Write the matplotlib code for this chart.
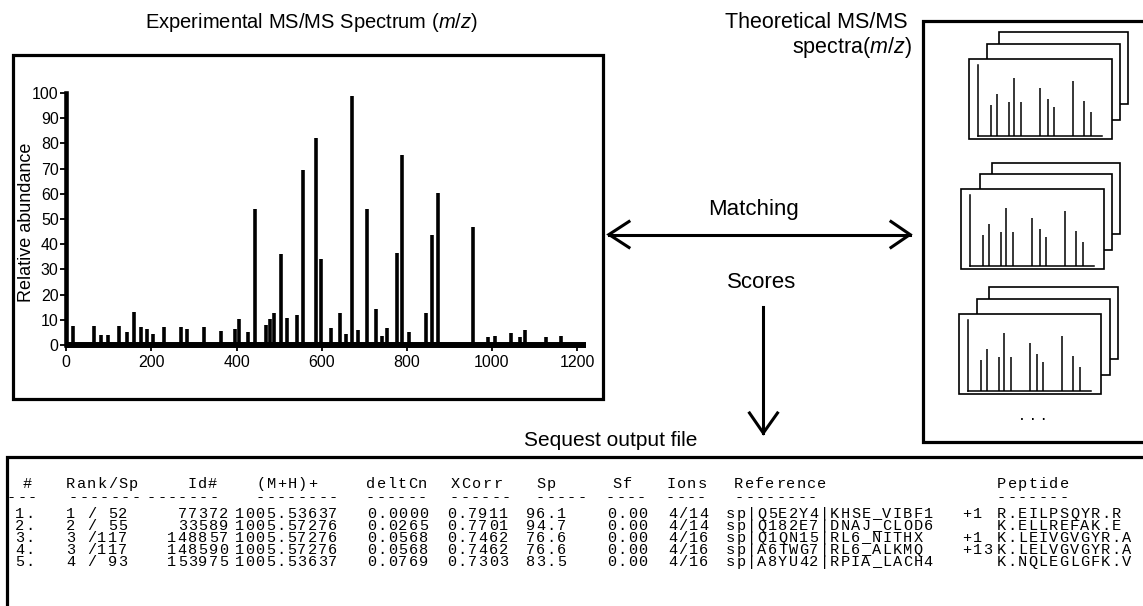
import matplotlib
matplotlib.use("Agg")
import matplotlib.pyplot as plt
from matplotlib.patches import Rectangle

plt.rcParams["font.family"] = ["Liberation Sans", "DejaVu Sans"]
plt.rcParams["mathtext.fontset"] = "custom"
plt.rcParams["mathtext.it"] = "Liberation Sans:italic"
plt.rcParams["mathtext.rm"] = "Liberation Sans"

# ---- experimental MS/MS spectrum ----
peak_mz = [16, 66, 82, 99, 125, 142, 160, 176, 190, 204,
           230, 269, 284, 324, 363, 396, 406, 428, 443, 469,
           478, 489, 504, 519, 541, 557, 586, 598, 622, 642,
           657, 672, 686, 707, 728, 742, 754, 778, 789, 805,
           845, 860, 874, 956, 992, 1007, 1045, 1066, 1078, 1127,
           1162]
peak_abundance = [7.5, 7.5, 4, 4, 7.5, 5, 13, 7, 6.3, 4.5,
                  7, 7, 6.3, 7, 5.4, 6.4, 10.3, 5, 54, 8,
                  10.3, 12.6, 36, 10.8, 11.9, 69.4, 82, 34, 6.6, 12.6,
                  4.4, 99, 6, 54, 14.4, 3.6, 6.6, 36.4, 75.3, 5.3,
                  12.6, 43.8, 60.4, 47, 3, 3.6, 4.9, 3, 6, 3,
                  3.6]
mz_ticks = [0, 200, 400, 600, 800, 1000, 1200]
abundance_ticks = [0, 10, 20, 30, 40, 50, 60, 70, 80, 90, 100]

# ---- theoretical spectra (relative position / relative height) ----
theo_pos = [0.11, 0.153, 0.25, 0.293, 0.352, 0.503, 0.565, 0.613, 0.766, 0.855, 0.909]
theo_height = [0.43, 0.59, 0.47, 0.81, 0.48, 0.68, 0.52, 0.40, 0.77, 0.49, 0.34]

# ---- Sequest output table ----
row_no = ["1.", "2.", "3.", "4.", "5."]
rank_sp = ["1 / 52", "2 / 55", "3 /117", "3 /117", "4 / 93"]
id_no = ["77372", "33589", "148857", "148590", "153975"]
mh_mass = ["1005.53637", "1005.57276", "1005.57276", "1005.57276", "1005.53637"]
delt_cn = ["0.0000", "0.0265", "0.0568", "0.0568", "0.0769"]
xcorr = ["0.7911", "0.7701", "0.7462", "0.7462", "0.7303"]
sp_score = ["96.1", "94.7", "76.6", "76.6", "83.5"]
sf_score = ["0.00", "0.00", "0.00", "0.00", "0.00"]
ions = ["4/14", "4/14", "4/16", "4/16", "4/16"]
reference = ["sp|Q5E2Y4|KHSE_VIBF1", "sp|Q182E7|DNAJ_CLOD6", "sp|Q1QN15|RL6_NITHX",
             "sp|A6TWG7|RL6_ALKMQ", "sp|A8YU42|RPIA_LACH4"]
more_refs = ["+1", "", "+1", "+13", ""]
peptide = ["R.EILPSQYR.R", "K.ELLREFAK.E", "K.LEIVGVGYR.A", "K.LELVGVGYR.A", "K.NQLEGLGFK.V"]
header_names = ["#", "Rank/Sp", "Id#", "(M+H)+", "deltCn", "XCorr", "Sp", "Sf",
                "Ions", "Reference", "Peptide"]
header_rule = [3, 7, 7, 8, 6, 6, 5, 4, 4, 8, 7]

W, H = 1143, 606
fig = plt.figure(figsize=(W / 100, H / 100), dpi=100)
fig.patch.set_facecolor("white")

# pixel-space canvas for frames, arrows and captions
ov = fig.add_axes([0, 0, 1, 1])
ov.set_xlim(0, W)
ov.set_ylim(H, 0)
ov.axis("off")

FRAME_LW = 2.3


def frame(x0, y0, x1, y1, lw=FRAME_LW, fill=False):
    ov.add_patch(Rectangle((x0, y0), x1 - x0, y1 - y0, fill=fill,
                           facecolor="white", edgecolor="black", lw=lw,
                           joinstyle="miter"))


def fig_axes(x0, y0, x1, y1):
    return fig.add_axes([x0 / W, 1 - y1 / H, (x1 - x0) / W, (y1 - y0) / H])


# experimental spectrum frame and caption
frame(13, 54.5, 602.5, 398.5)
ov.text(311, 22, r"Experimental MS/MS Spectrum ($\mathit{m/z}$)", fontsize=14.5,
        ha="center", va="center")

# theoretical spectra frame (open to the right)
ov.plot([1150, 922.5, 922.5, 1150], [20.5, 20.5, 442, 442], color="black",
        lw=FRAME_LW, solid_joinstyle="miter")
ov.text(908, 22, "Theoretical MS/MS", fontsize=15.5, ha="right", va="center")
ov.text(912, 48, r"spectra($\mathit{m/z}$)", fontsize=15.5, ha="right", va="center")

# table frame
ov.plot([7, 7, 1150], [620, 457, 457], color="black", lw=FRAME_LW,
        solid_joinstyle="miter")
ov.text(697, 440, "Sequest output file", fontsize=15, ha="right", va="center")

# matching arrow
ov.plot([609, 910], [234.5, 234.5], color="black", lw=2.2)
ov.plot([629, 609, 629], [221.5, 234.5, 247.5], color="black", lw=2.2,
        solid_joinstyle="miter")
ov.plot([891, 910, 891], [221.5, 234.5, 247.5], color="black", lw=2.2,
        solid_joinstyle="miter")
ov.text(754, 209, "Matching", fontsize=16, ha="center", va="center")

# scores arrow
ov.text(761.5, 283, "Scores", fontsize=16, ha="center", va="center")
ov.plot([763.3, 763.3], [306.5, 433], color="black", lw=2.2)
ov.plot([749.5, 763.3, 777.5], [413, 433, 413], color="black", lw=2.2,
        solid_joinstyle="miter")

# stacked cards of theoretical spectra
stacks = [
    [(999, 32, 1128, 104), (987, 44, 1120, 120), (969, 59, 1112, 139)],
    [(991.5, 163, 1120, 234), (980, 174, 1112, 250), (961, 189, 1104, 269)],
    [(989, 287, 1118, 359), (977, 299, 1110, 375), (959, 314, 1101, 394)],
]
for cards in stacks:
    for (x0, y0, x1, y1) in cards:
        frame(x0, y0, x1, y1, lw=1.2, fill=True)
    fx0, fy0, fx1, fy1 = cards[-1]
    sa = fig_axes(fx0 + 8.7, fy0 + 6, fx1 - 10, fy1 - 3.3)
    sa.set_xlim(0, 1)
    sa.set_ylim(0, 1)
    sa.patch.set_alpha(0)
    sa.vlines(theo_pos, 0, theo_height, colors="black", lw=1.1)
    for side in ("top", "right"):
        sa.spines[side].set_visible(False)
    for side in ("left", "bottom"):
        sa.spines[side].set_linewidth(1.1)
    sa.set_xticks([])
    sa.set_yticks([])
ov.text(1033, 419, "· · ·", fontsize=13, ha="center", va="center")

# experimental spectrum axes
ax = fig_axes(66.3, 93, 585.5, 345)
ax.set_xlim(0, 1220)
ax.set_ylim(0, 100)
ax.patch.set_alpha(0)
ax.vlines(peak_mz, 0, peak_abundance, colors="black", lw=2.6)
ax.plot([0, 1222], [0, 0], color="black", lw=4.3, solid_capstyle="butt",
        clip_on=False)
for side in ("top", "right", "bottom"):
    ax.spines[side].set_visible(False)
ax.spines["left"].set_linewidth(3.3)
ax.set_xticks(mz_ticks)
ax.set_yticks(abundance_ticks)
ax.tick_params(axis="y", length=4, width=1.3, pad=1.5, labelsize=11.5)
ax.tick_params(axis="x", length=4, width=1.3, pad=3, labelsize=11.5)
ax.set_ylabel("Relative abundance", fontsize=13, va="center")
ax.yaxis.set_label_coords(-0.0757, 0.488)

# Sequest table: fixed character cells, like a terminal listing
CELL = 10.4
MONO_FAMILY = ["Liberation Mono", "DejaVu Sans Mono"]


def mono(x, y, s, ha="left", size=11):
    if ha == "right":
        x = x - len(s) * CELL
    for k, ch in enumerate(s):
        if ch != " ":
            ov.text(x + (k + 0.5) * CELL, y, ch, ha="center", va="center",
                    family=MONO_FAMILY, fontsize=size)


HEAD_Y, DASH_Y = 484, 497
ROW_Y0, ROW_DY = 514, 12

header_x = [21.5, 65.5, 186.5, 255.5, 365.5, 450.5, 535.5, 611.5, 665.5, 733.5, 996.5]
rule_x = [6, 68, 146, 255, 365, 449, 535, 605, 665, 734, 996]
for name, hx, n, rx in zip(header_names, header_x, header_rule, rule_x):
    mono(hx, HEAD_Y, name)
    mono(rx, DASH_Y, "-" * n)

columns = [  # (values, cell anchor x, alignment)
    (row_no, 14.5, "left"),
    (rank_sp, 65.5, "left"),
    (id_no, 229, "right"),
    (mh_mass, 234, "left"),
    (delt_cn, 366.5, "left"),
    (xcorr, 446.5, "left"),
    (sp_score, 566.5, "right"),
    (sf_score, 606.5, "left"),
    (ions, 667.5, "left"),
    (reference, 725.5, "left"),
    (more_refs, 961.5, "left"),
    (peptide, 996.5, "left"),
]
for values, x, ha in columns:
    for i, v in enumerate(values):
        mono(x, ROW_Y0 + i * ROW_DY, v, ha=ha)

fig.savefig("out.png", dpi=100, facecolor="white")
